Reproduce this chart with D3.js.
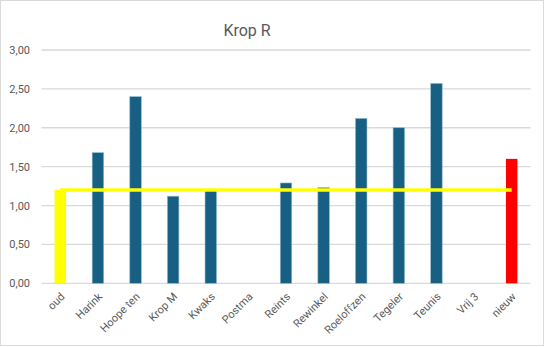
<!DOCTYPE html>
<html>
<head>
<meta charset="utf-8">
<script src="https://cdn.jsdelivr.net/npm/d3@7"></script>
<style>
  html, body { margin: 0; padding: 0; background: #fff; }
  svg { display: block; }
  text { font-family: Roboto, "Open Sans", sans-serif; fill: #595959; }
</style>
</head>
<body>
<svg id="chart" width="546" height="347"></svg>
<script>
// ---- data ----
const categories = ["oud", "Harink", "Hoope ten", "Krop M", "Kwaks", "Postma", "Reints", "Rewinkel", "Roeloffzen", "Tegeler", "Teunis", "Vrij 3", "nieuw"];
const values = [1.20, 1.68, 2.40, 1.12, 1.19, null, 1.29, 1.23, 2.12, 2.00, 2.57, null, 1.60];
const lineValues = [1.20, 1.20, 1.20, 1.20, 1.20, 1.20, 1.20, 1.20, 1.20, 1.20, 1.20, 1.20, 1.20];
const yTicks = [0, 0.5, 1, 1.5, 2, 2.5, 3];
const title = "Krop R";

// ---- layout ----
const svg = d3.select("#chart");
const W = 546, H = 347;
const plot = { left: 41.5, right: 530.5, top: 50, bottom: 283.3 };

svg.append("rect")
  .attr("x", 0.5).attr("y", 0.5).attr("width", 543).attr("height", 345)
  .attr("fill", "#fff").attr("stroke", "#d9d9d9").attr("stroke-width", 1);

const x = d3.scaleBand().domain(categories).range([plot.left, plot.right]).paddingInner(0.695).paddingOuter(0.3475);
const y = d3.scaleLinear().domain([0, 3]).range([plot.bottom, plot.top]);

// title
svg.append("text")
  .attr("x", 247).attr("y", 36)
  .attr("text-anchor", "middle")
  .attr("font-size", 16)
  .text(title);

// gridlines
svg.append("g").selectAll("line").data(yTicks).join("line")
  .attr("x1", plot.left).attr("x2", plot.right)
  .attr("y1", d => y(d)).attr("y2", d => y(d))
  .attr("stroke", "#d9d9d9").attr("stroke-width", 1.3);

// y axis labels
const yAxis = d3.axisLeft(y).tickValues(yTicks).tickSize(0).tickPadding(0)
  .tickFormat(d => d3.format(".2f")(d).replace(".", ","));
const yg = svg.append("g").attr("transform", `translate(30,0)`).call(yAxis);
yg.select(".domain").remove();
yg.selectAll("text").attr("font-size", 11).attr("fill", "#595959")
  .style("font-family", 'Roboto, "Open Sans", sans-serif');

// bars
const barColor = (d, i) => i === 0 ? "#ffff00" : (i === categories.length - 1 ? "#ff0000" : "#175f83");
svg.append("g").selectAll("rect")
  .data(values.map((v, i) => ({ c: categories[i], v, i })).filter(d => d.v != null))
  .join("rect")
  .attr("x", d => x(d.c))
  .attr("width", x.bandwidth())
  .attr("y", d => y(d.v))
  .attr("height", d => y(0) - y(d.v))
  .attr("fill", d => barColor(d, d.i))
  .attr("stroke", d => d.i === 0 || d.i === categories.length - 1 ? "none" : "#8db8d0")
  .attr("stroke-width", 0.6);

// line series
const line = d3.line()
  .x((d, i) => x(categories[i]) + x.bandwidth() / 2)
  .y(d => y(d));
svg.append("path")
  .datum(lineValues)
  .attr("d", line)
  .attr("fill", "none")
  .attr("stroke", "#ffff00")
  .attr("stroke-width", 3.5);

// x axis labels
const xAxis = d3.axisBottom(x).tickSize(0).tickPadding(0);
const xg = svg.append("g").attr("transform", `translate(0,${plot.bottom})`).call(xAxis);
xg.select(".domain").remove();
xg.selectAll("text")
  .attr("font-size", 11).attr("fill", "#595959")
  .style("font-family", 'Roboto, "Open Sans", sans-serif')
  .attr("text-anchor", "end")
  .attr("dy", 0)
  .attr("y", 0)
  .attr("transform", "translate(5,14) rotate(-45)");
</script>
</body>
</html>
